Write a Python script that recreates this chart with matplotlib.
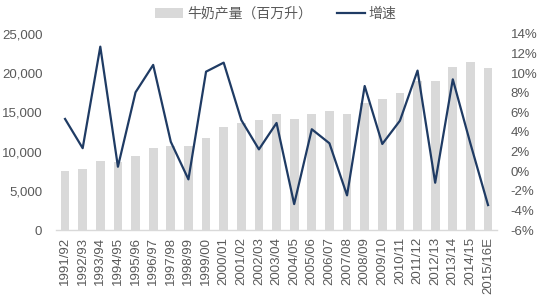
import matplotlib
matplotlib.use("Agg")
import matplotlib.pyplot as plt
from matplotlib.patches import Patch
from matplotlib.lines import Line2D
from matplotlib.ticker import FuncFormatter

plt.rcParams['font.family'] = ['Liberation Sans', 'Noto Sans CJK SC', 'DejaVu Sans']

categories = ["1991/92", "1992/93", "1993/94", "1994/95", "1995/96", "1996/97",
              "1997/98", "1998/99", "1999/00", "2000/01", "2001/02", "2002/03",
              "2003/04", "2004/05", "2005/06", "2006/07", "2007/08", "2008/09",
              "2009/10", "2010/11", "2011/12", "2012/13", "2013/14", "2014/15",
              "2015/16E"]
production = [7560, 7740, 8760, 8640, 9440, 10460, 10710, 10710, 11690, 13100,
              13690, 14030, 14760, 14200, 14830, 15220, 14830, 16160, 16670,
              17430, 19000, 18960, 20750, 21390, 20620]
growth = [5.33, 2.35, 12.7, 0.46, 8.05, 10.84, 3.0, -0.83, 10.15, 11.07,
          5.22, 2.23, 4.92, -3.35, 4.28, 2.85, -2.46, 8.69, 2.78, 5.15,
          10.26, -1.17, 9.37, 2.82, -3.45]
left_ticks = [0, 5000, 10000, 15000, 20000, 25000]
right_ticks = [-6, -4, -2, 0, 2, 4, 6, 8, 10, 12, 14]
bar_label = "牛奶产量（百万升）"
line_label = "增速"

bar_color = "#D9D9D9"
line_color = "#1F3B64"
text_color = "#595959"

fig = plt.figure(figsize=(5.46, 3.0), dpi=100)
ax = fig.add_axes([0.103, 0.233, 0.807, 0.654])
x = list(range(len(categories)))
ax.bar(x, production, width=0.5, color=bar_color, zorder=1)
ax.set_xlim(-0.5, len(categories) - 0.5)
ax.set_ylim(0, 25000)
ax.set_yticks(left_ticks)
ax.yaxis.set_major_formatter(FuncFormatter(lambda v, p: f"{int(v):,}"))
ax.set_xticks(x)
ax.set_xticklabels(categories, rotation=90)
for s in ["top", "left", "right"]:
    ax.spines[s].set_visible(False)
ax.spines["bottom"].set_color("#D9D9D9")
ax.spines["bottom"].set_linewidth(1.0)
ax.tick_params(axis="y", length=0, pad=10, labelsize=9.5, labelcolor=text_color)
ax.tick_params(axis="x", length=0, pad=5, labelsize=9.5, labelcolor=text_color)

ax2 = ax.twinx()
ax2.plot(x, growth, color=line_color, linewidth=1.6, zorder=3)
ax2.set_ylim(-6, 14)
ax2.set_yticks(right_ticks)
ax2.yaxis.set_major_formatter(FuncFormatter(lambda v, p: f"{int(v)}%"))
for s in ["top", "left", "right", "bottom"]:
    ax2.spines[s].set_visible(False)
ax2.tick_params(axis="y", length=0, pad=10, labelsize=9.5, labelcolor=text_color)

handles = [Patch(facecolor=bar_color, edgecolor="none", label=bar_label),
           Line2D([0], [0], color=line_color, linewidth=1.6, label=line_label)]
fig.legend(handles=handles, loc="center", bbox_to_anchor=(0.505, 0.955), ncol=2,
           frameon=False, labelcolor=text_color, handlelength=2.0,
           handletextpad=0.3, columnspacing=1.8,
           prop={'family': ['Noto Sans CJK SC', 'DejaVu Sans'], 'size': 10})

fig.savefig("out.png", dpi=100)
